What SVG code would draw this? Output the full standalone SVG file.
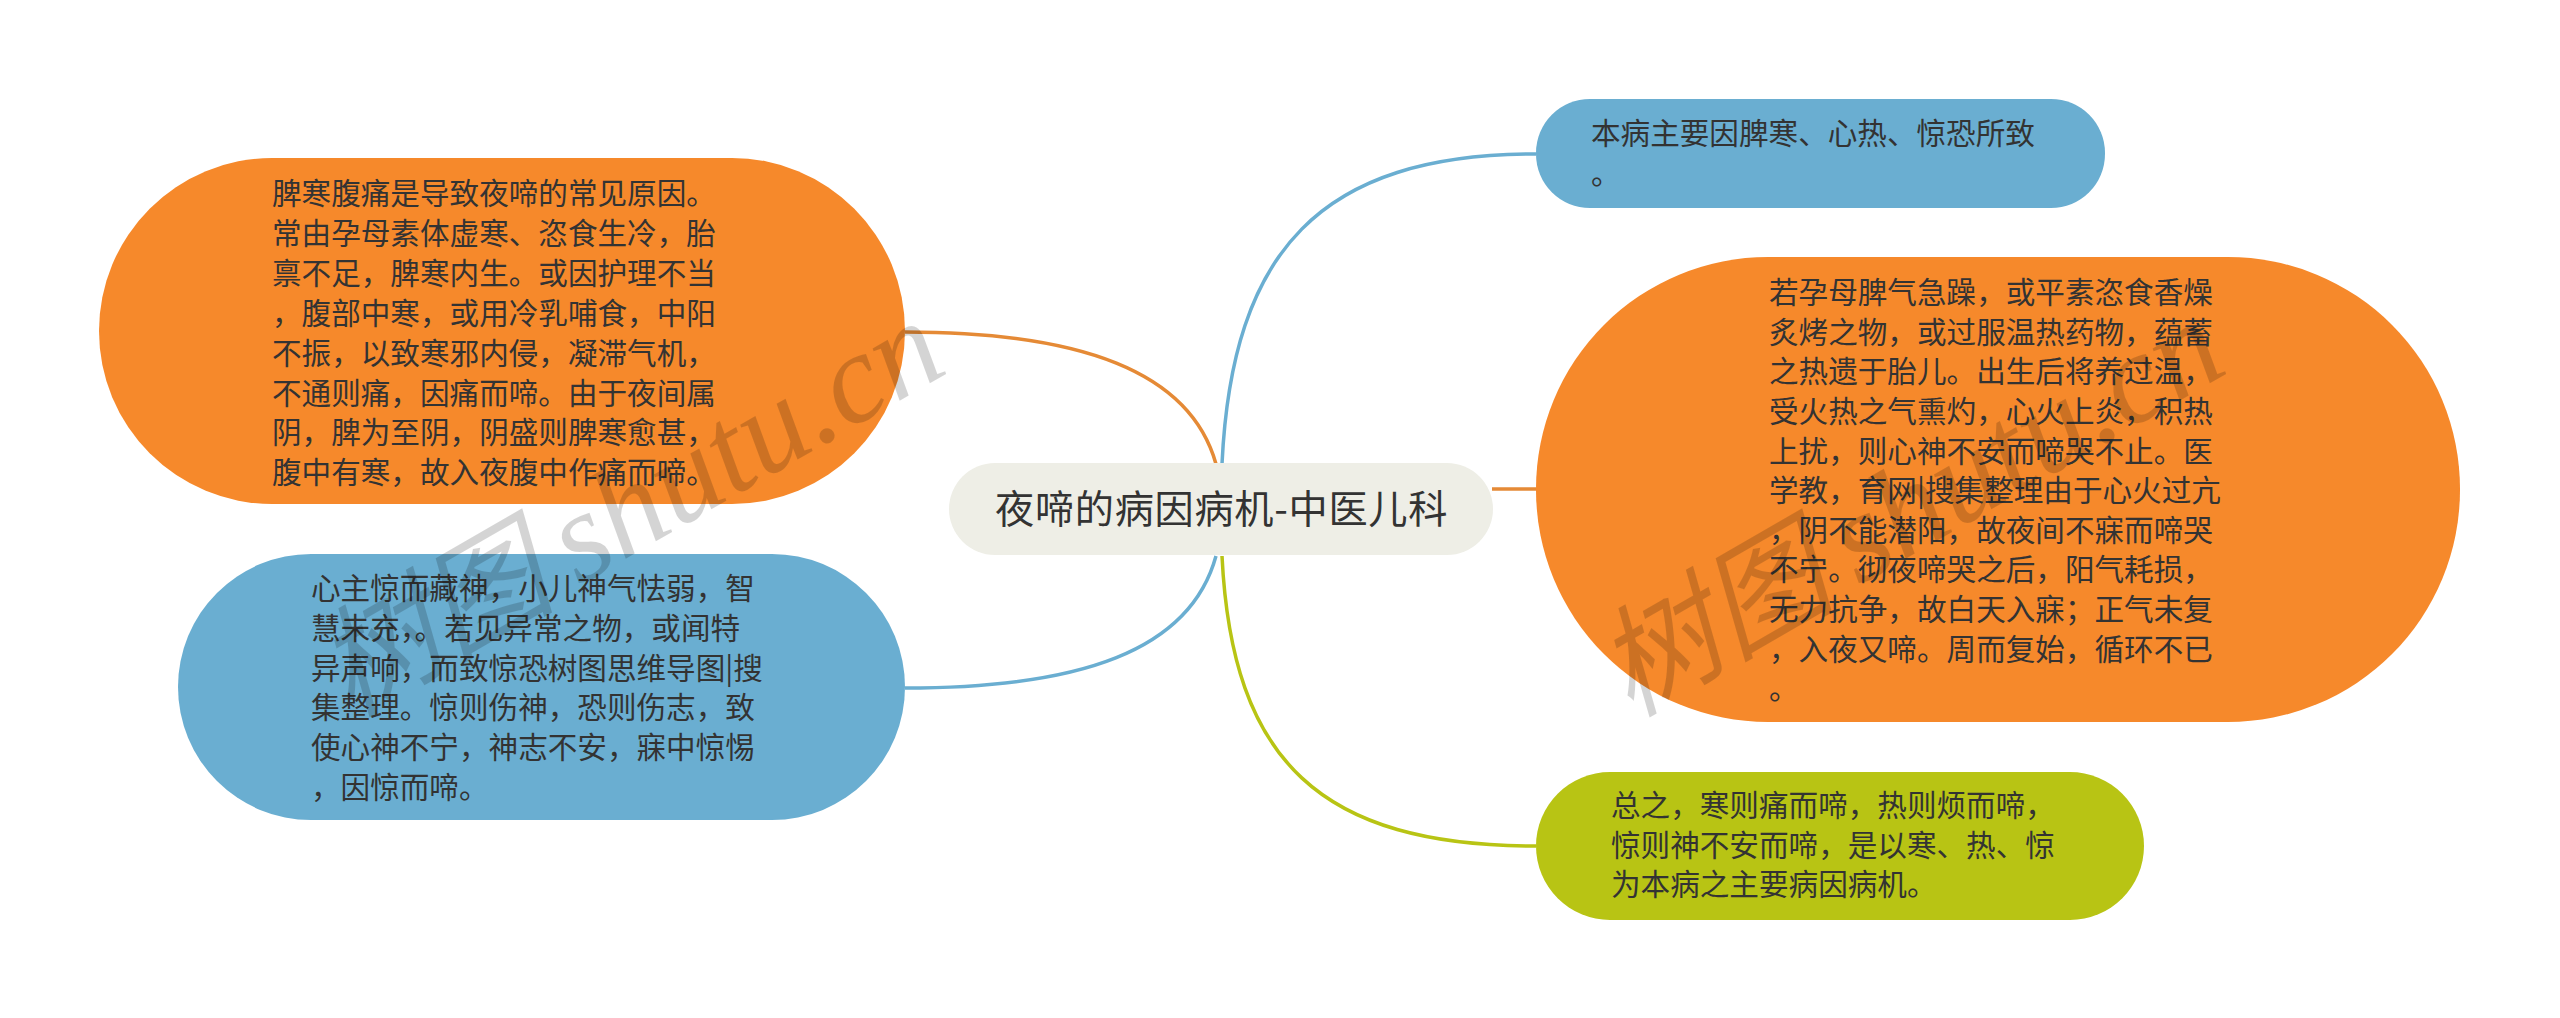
<svg xmlns="http://www.w3.org/2000/svg" width="2560" height="1018" viewBox="0 0 2560 1018">
<style>
text{font-family:"Noto Sans CJK SC","Noto Sans",sans-serif;fill:#333;font-size:29.6px}
.c{fill:none;stroke-width:3.5}
.o{fill:#f6892b}.b{fill:#6aaed1}.g{fill:#b8c414}
.wm{font-family:"Liberation Serif","Noto Sans CJK SC",serif;font-style:italic;font-size:128px;fill:#000;fill-opacity:.17}
.wm tspan.k{font-size:120px}
</style>
<rect width="2560" height="1018" fill="#fff"/>
<g id="connectors">
<path class="c" stroke="#e58a36" d="M905 332C1080 332 1190 371 1216 464"/>
<path class="c" stroke="#6aaed1" d="M905 688C1080 688 1190 651 1216 556"/>
<path class="c" stroke="#6aaed1" d="M1222 464C1232 251 1320 154 1536 154"/>
<path class="c" stroke="#e58a36" d="M1492 489H1536"/>
<path class="c" stroke="#b8c414" d="M1222 556C1232 761 1320 846 1536 846"/>
</g>
<g id="center"><rect x="949" y="463" width="544" height="92" rx="46" fill="#eeeee6"/>
<text x="995" y="523" style="font-size:39.2px;letter-spacing:.7px">夜啼的病因病机-中医儿科</text></g>
<g id="n1"><rect class="o" x="99" y="158" width="806" height="346" rx="173"/>
<text x="272" y="204">脾寒腹痛是导致夜啼的常见原因。</text>
<text x="272" y="244">常由孕母素体虚寒、恣食生冷&#xFF0C;胎</text>
<text x="272" y="284">禀不足&#xFF0C;脾寒内生。或因护理不当</text>
<text x="272" y="324">&#xFF0C;腹部中寒&#xFF0C;或用冷乳哺食&#xFF0C;中阳</text>
<text x="272" y="364">不振&#xFF0C;以致寒邪内侵&#xFF0C;凝滞气机&#xFF0C;</text>
<text x="272" y="404">不通则痛&#xFF0C;因痛而啼。由于夜间属</text>
<text x="272" y="443">阴&#xFF0C;脾为至阴&#xFF0C;阴盛则脾寒愈甚&#xFF0C;</text>
<text x="272" y="483">腹中有寒&#xFF0C;故入夜腹中作痛而啼。</text></g>
<g id="n2"><rect class="b" x="178" y="554" width="727" height="266" rx="133"/>
<text x="311" y="599">心主惊而藏神&#xFF0C;小儿神气怯弱&#xFF0C;智</text>
<text x="311" y="639">慧未充&#xFF0C;。若见异常之物&#xFF0C;或闻特</text>
<text x="311" y="679">异声响&#xFF0C;而致惊恐树图思维导图|搜</text>
<text x="311" y="718">集整理。惊则伤神&#xFF0C;恐则伤志&#xFF0C;致</text>
<text x="311" y="758">使心神不宁&#xFF0C;神志不安&#xFF0C;寐中惊惕</text>
<text x="311" y="798">&#xFF0C;因惊而啼。</text></g>
<g id="n3"><rect class="b" x="1536" y="99" width="569" height="109" rx="54"/>
<text x="1591" y="144">本病主要因脾寒、心热、惊恐所致</text>
<text x="1591" y="184">。</text></g>
<g id="n4"><rect class="o" x="1536" y="257" width="924" height="465" rx="232"/>
<text x="1769" y="303">若孕母脾气急躁&#xFF0C;或平素恣食香燥</text>
<text x="1769" y="343">炙烤之物&#xFF0C;或过服温热药物&#xFF0C;蕴蓄</text>
<text x="1769" y="382">之热遗于胎儿。出生后将养过温&#xFF0C;</text>
<text x="1769" y="422">受火热之气熏灼&#xFF0C;心火上炎&#xFF0C;积热</text>
<text x="1769" y="462">上扰&#xFF0C;则心神不安而啼哭不止。医</text>
<text x="1769" y="501">学教&#xFF0C;育网|搜集整理由于心火过亢</text>
<text x="1769" y="541">&#xFF0C;阴不能潜阳&#xFF0C;故夜间不寐而啼哭</text>
<text x="1769" y="580">不宁。彻夜啼哭之后&#xFF0C;阳气耗损&#xFF0C;</text>
<text x="1769" y="620">无力抗争&#xFF0C;故白天入寐&#xFF1B;正气未复</text>
<text x="1769" y="660">&#xFF0C;入夜又啼。周而复始&#xFF0C;循环不已</text>
<text x="1769" y="699">。</text></g>
<g id="n5"><rect class="g" x="1536" y="772" width="608" height="148" rx="74"/>
<text x="1611" y="816">总之&#xFF0C;寒则痛而啼&#xFF0C;热则烦而啼&#xFF0C;</text>
<text x="1611" y="856">惊则神不安而啼&#xFF0C;是以寒、热、惊</text>
<text x="1611" y="895">为本病之主要病因病机。</text></g>
<g id="watermark">
<text class="wm" transform="translate(350 718) rotate(-30)"><tspan class="k">树图</tspan><tspan dx="24">shutu.cn</tspan></text>
<text class="wm" transform="translate(1630 718) rotate(-30)"><tspan class="k">树图</tspan><tspan dx="24">shutu.cn</tspan></text>
</g>
</svg>
